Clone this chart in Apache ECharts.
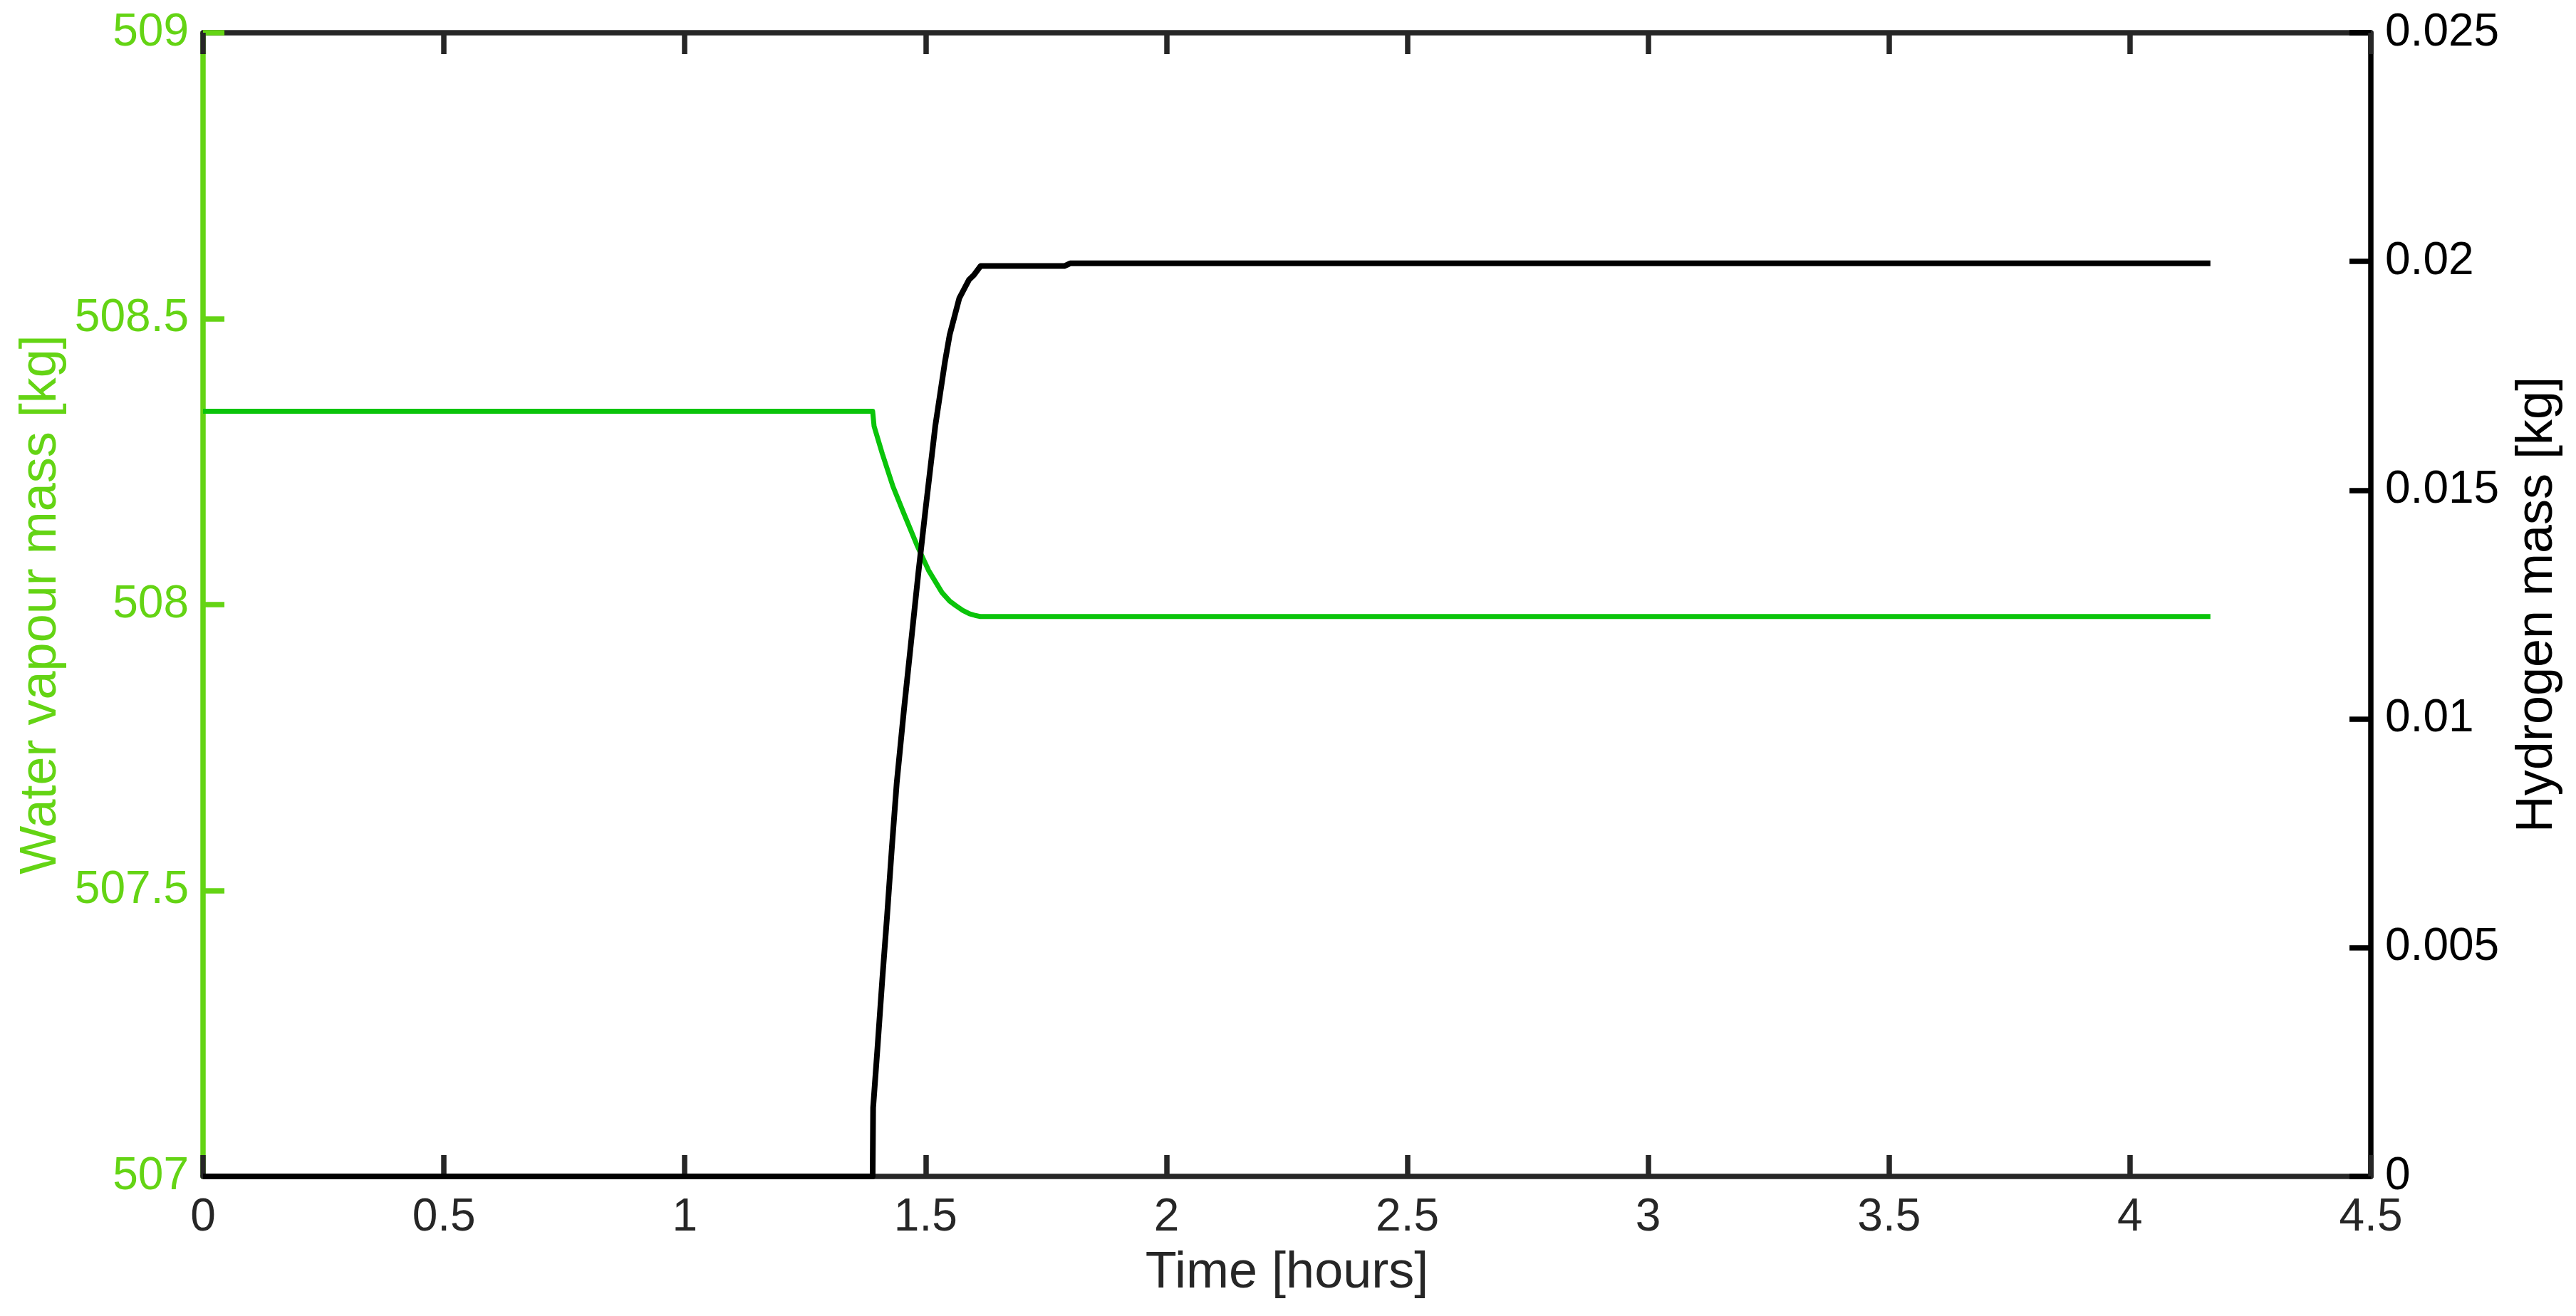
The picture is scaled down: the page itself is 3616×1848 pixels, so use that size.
<!DOCTYPE html>
<html>
<head>
<meta charset="utf-8">
<script src="https://cdn.jsdelivr.net/npm/echarts@6/dist/echarts.min.js"></script>
<style>
html,body{margin:0;padding:0;background:#fff;}
#chart{width:3616px;height:1848px;}
</style>
</head>
<body>
<div id="chart"></div>
<script>
// Time [hours] and water vapour mass [kg] (left axis)
const timeWater = [0, 1.390, 1.393, 1.410, 1.432, 1.455, 1.483, 1.506, 1.534, 1.550, 1.563, 1.577, 1.591, 1.603, 1.614, 4.167];
const waterMass = [508.338, 508.338, 508.312, 508.264, 508.207, 508.159, 508.102, 508.060, 508.021, 508.006, 507.998, 507.990, 507.984, 507.981, 507.979, 507.979];

// Time [hours] and hydrogen mass [kg] (right axis)
const timeH2 = [0, 1.390, 1.391, 1.400, 1.410, 1.420, 1.430, 1.440, 1.455, 1.470, 1.485, 1.500, 1.510, 1.520, 1.530, 1.540, 1.550, 1.560, 1.570, 1.580, 1.590, 1.600, 1.614, 1.788, 1.800, 4.167];
const h2Mass = [0, 0, 0.0015, 0.0028, 0.0043, 0.0057, 0.0072, 0.0086, 0.0102, 0.0117, 0.0132, 0.0146, 0.0155, 0.0164, 0.0171, 0.0178, 0.0184, 0.0188, 0.0192, 0.0194, 0.0196, 0.0197, 0.0199, 0.0199, 0.01996, 0.01996];

// Axis ranges / ticks
const xRange = [0, 4.5, 0.5];
const leftRange = [507, 509, 0.5];
const rightRange = [0, 0.025, 0.005];

const xName = 'Time [hours]';
const leftName = 'Water vapour mass [kg]';
const rightName = 'Hydrogen mass [kg]';

const FONT = 'Liberation Sans';
const GREEN_AX = '#64d414';
const GREEN_LN = '#0ac40a';
const DARK = '#262626';

const chart = echarts.init(document.getElementById('chart'), null, {renderer: 'canvas'});
// ticks pointing into the plot area
const tickIn = (c) => ({show: true, inside: true, length: 30, lineStyle: {color: c, width: 7.5}});

chart.setOption({
  backgroundColor: '#ffffff',
  animation: false,
  grid: {left: 285, right: 288, top: 46, bottom: 196, containLabel: false},
  xAxis: [{
    type: 'value', position: 'bottom',
    min: xRange[0], max: xRange[1], interval: xRange[2],
    name: xName, nameLocation: 'middle', nameGap: 100,
    nameTextStyle: {color: DARK, fontSize: 72, fontFamily: FONT},
    axisLine: {show: true, onZero: false, lineStyle: {color: DARK, width: 7.5}},
    axisTick: tickIn(DARK),
    axisLabel: {color: DARK, fontSize: 64, fontFamily: FONT, margin: 26},
    splitLine: {show: false}
  }, {
    type: 'value', position: 'top',
    min: xRange[0], max: xRange[1], interval: xRange[2],
    axisLine: {show: true, onZero: false, lineStyle: {color: DARK, width: 7.5}},
    axisTick: tickIn(DARK),
    axisLabel: {show: false},
    splitLine: {show: false}
  }],
  yAxis: [{
    type: 'value', position: 'left',
    min: leftRange[0], max: leftRange[1], interval: leftRange[2],
    name: leftName, nameLocation: 'middle', nameRotate: 90, nameGap: 188,
    nameTextStyle: {color: GREEN_AX, fontSize: 72, fontFamily: FONT},
    axisLine: {show: true, onZero: false, lineStyle: {color: GREEN_AX, width: 7.5}},
    axisTick: tickIn(GREEN_AX),
    axisLabel: {color: GREEN_AX, fontSize: 64, fontFamily: FONT, margin: 20},
    splitLine: {show: false}
  }, {
    type: 'value', position: 'right',
    min: rightRange[0], max: rightRange[1], interval: rightRange[2],
    name: rightName, nameLocation: 'middle', nameRotate: 90, nameGap: 198,
    nameTextStyle: {color: '#000000', fontSize: 72, fontFamily: FONT},
    axisLine: {show: true, onZero: false, lineStyle: {color: '#000000', width: 7.5}},
    axisTick: tickIn('#000000'),
    axisLabel: {color: '#000000', fontSize: 64, fontFamily: FONT, margin: 20},
    splitLine: {show: false}
  }],
  series: [{
    name: leftName, type: 'line', xAxisIndex: 0, yAxisIndex: 0,
    data: timeWater.map((t, i) => [t, waterMass[i]]),
    showSymbol: false, clip: false, z: 3,
    lineStyle: {color: GREEN_LN, width: 7, join: 'round'}, itemStyle: {color: GREEN_LN}
  }, {
    name: rightName, type: 'line', xAxisIndex: 0, yAxisIndex: 1,
    data: timeH2.map((t, i) => [t, h2Mass[i]]),
    showSymbol: false, clip: false, z: 4,
    lineStyle: {color: '#000000', width: 8, join: 'round'}, itemStyle: {color: '#000000'}
  }]
});
</script>
</body>
</html>
